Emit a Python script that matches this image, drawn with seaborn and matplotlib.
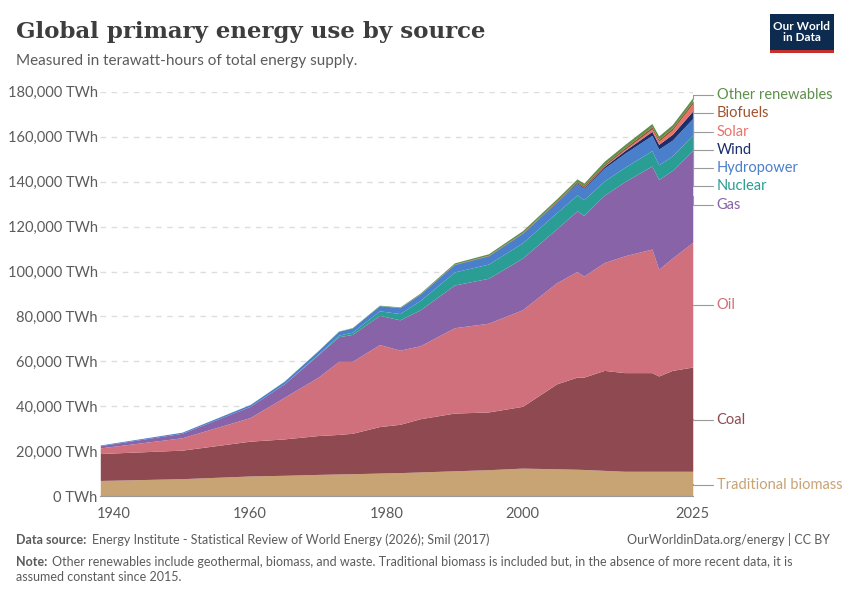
import numpy as np
import seaborn as sns
from matplotlib import pyplot as plt

years = [1938, 1950, 1960, 1965, 1970, 1973, 1975, 1979, 1982, 1985, 1990, 1995, 2000,
         2005, 2008, 2009, 2012, 2015, 2019, 2020, 2022, 2025]
trad_biomass = [7000, 7800, 9000, 9300, 9700, 9900, 10000, 10300, 10500, 10800, 11300, 11800, 12500,
                12200, 12000, 11900, 11500, 11100, 11100, 11100, 11100, 11100]
coal_top = [19000, 20500, 24500, 25500, 27000, 27500, 28000, 31000, 32000, 34500, 37000, 37500, 40000,
            50000, 53000, 53000, 56000, 55000, 55000, 53500, 56000, 57500]
oil_top = [21500, 26000, 35000, 44000, 53000, 60000, 60000, 67500, 65000, 67000, 75000, 77000, 83000,
           95000, 100000, 98000, 104000, 107000, 110000, 101000, 106000, 113000]
gas_top = [22500, 28000, 40000, 50000, 63000, 71000, 72000, 80500, 78500, 83000, 94000, 97000, 106000,
           119000, 127000, 125000, 134000, 140000, 147000, 141000, 145000, 154000]
nuclear = [0, 0, 0, 50, 300, 700, 1000, 2000, 2800, 4200, 5800, 6300, 6800,
           7200, 7100, 7000, 6300, 6400, 6800, 6500, 6500, 6800]
hydro = [300, 500, 800, 1100, 1500, 1700, 1900, 2300, 2600, 2800, 3300, 3700, 4200,
         4600, 5000, 5000, 5700, 6200, 6800, 7000, 7000, 7400]
wind = [0, 0, 0, 0, 0, 0, 0, 0, 0, 0, 5, 15, 50,
        150, 350, 450, 800, 1200, 1800, 2100, 2600, 3300]
solar = [0, 0, 0, 0, 0, 0, 0, 0, 0, 0, 0, 0, 5,
         10, 40, 60, 200, 400, 1000, 1300, 1800, 3200]
biofuels = [0, 0, 0, 0, 0, 0, 0, 30, 60, 100, 150, 200, 250,
            400, 650, 700, 800, 900, 1000, 950, 1000, 1100]
other_renew = [0, 0, 50, 80, 100, 150, 150, 200, 300, 400, 600, 700, 900,
               1000, 1100, 1150, 1300, 1400, 1500, 1500, 1550, 1600]

coal = np.array(coal_top) - np.array(trad_biomass)
oil = np.array(oil_top) - np.array(coal_top)
gas = np.array(gas_top) - np.array(oil_top)

names = ['Traditional biomass', 'Coal', 'Oil', 'Gas', 'Nuclear', 'Hydropower', 'Wind', 'Solar',
         'Biofuels', 'Other renewables']
series = [trad_biomass, coal, oil, gas, nuclear, hydro, wind, solar, biofuels, other_renew]
colors = ['#c8a374', '#8f4a51', '#d0707c', '#8963a7', '#2a9d94', '#4a7fcb', '#1b2d6a', '#e8736b',
          '#a3522e', '#5f8f4c']
label_y = [5000, 34000, 85000, 129500, 138000, 146000, 154000, 162000, 170500, 178500]

sns.set_style('white')
plt.rcParams['font.family'] = ['Lato', 'DejaVu Sans']

fig = plt.figure(figsize=(8.5, 6), dpi=100)
ax = fig.add_axes([0.118, 0.173, 0.697, 0.674])
ax.stackplot(years, *series, colors=colors, linewidth=0)

ax.set_xlim(1938, 2025)
ax.set_ylim(0, 180000)
ax.set_yticks(range(0, 180001, 20000))
ax.set_yticklabels([f'{v:,} TWh' for v in range(0, 180001, 20000)], fontsize=10.5, color='#5b5b5b')
ax.set_xticks([1940, 1960, 1980, 2000, 2025])
ax.set_xticklabels(['1940', '1960', '1980', '2000', '2025'], fontsize=10.5, color='#5b5b5b')
ax.tick_params(axis='y', length=0, pad=2)
ax.tick_params(axis='x', length=4, color='#999999')
ax.grid(axis='y', linestyle=(0, (4, 4)), color='#dddddd', linewidth=1)
ax.set_axisbelow(True)
for s in ['top', 'right', 'left']:
    ax.spines[s].set_visible(False)
ax.spines['bottom'].set_color('#999999')

# right-hand labels with leader lines
cum = np.cumsum([s[-1] for s in series])
mids = cum - np.array([s[-1] for s in series]) / 2
for name, col, ly, my in zip(names, colors, label_y, mids):
    ax.annotate(name, xy=(2025, my), xytext=(2028.5, ly), textcoords='data',
                fontsize=10.5, color=col, va='center', ha='left', annotation_clip=False,
                arrowprops=dict(arrowstyle='-', color='#999999', lw=0.8,
                                connectionstyle='angle,angleA=0,angleB=90,rad=0',
                                shrinkA=0, shrinkB=0, relpos=(0, 0.5)))

fig.text(0.019, 0.947, 'Global primary energy use by source', fontsize=16.5, fontweight='bold',
         family=['DejaVu Serif'], color='#3d3d3d', va='center')
fig.text(0.019, 0.898, 'Measured in terawatt-hours of total energy supply.', fontsize=11,
         color='#5b5b5b', va='center')

fig.patches.append(plt.Rectangle((0.906, 0.915), 0.075, 0.062, transform=fig.transFigure,
                                 facecolor='#0d2a4f', edgecolor='none'))
fig.patches.append(plt.Rectangle((0.906, 0.912), 0.075, 0.004, transform=fig.transFigure,
                                 facecolor='#c4302b', edgecolor='none'))
fig.text(0.9435, 0.946, 'Our World\nin Data', fontsize=8.5, fontweight='bold', color='white',
         ha='center', va='center', linespacing=1.0)

fig.text(0.019, 0.1, 'Data source:', fontsize=9, color='#5b5b5b', va='center', fontweight='bold')
fig.text(0.108, 0.1, 'Energy Institute - Statistical Review of World Energy (2026); Smil (2017)',
         fontsize=9, color='#5b5b5b', va='center')
fig.text(0.977, 0.1, 'OurWorldinData.org/energy | CC BY', fontsize=9, color='#5b5b5b',
         va='center', ha='right')
fig.text(0.019, 0.064, 'Note:', fontsize=9, color='#5b5b5b', va='center', fontweight='bold')
fig.text(0.061, 0.064, 'Other renewables include geothermal, biomass, and waste. Traditional biomass is included but, in the absence of more recent data, it is',
         fontsize=9, color='#5b5b5b', va='center')
fig.text(0.019, 0.039, 'assumed constant since 2015.', fontsize=9, color='#5b5b5b', va='center')

fig.savefig('out.png', dpi=100)
